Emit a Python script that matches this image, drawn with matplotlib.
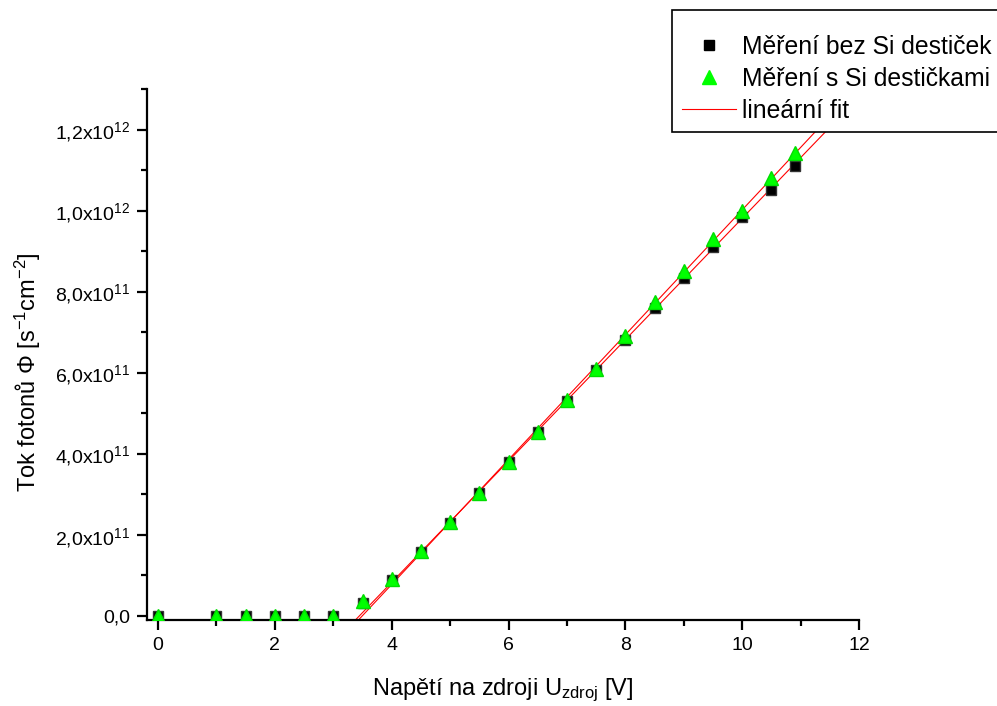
import numpy as np
import matplotlib
matplotlib.use("Agg")
import matplotlib.pyplot as plt
from matplotlib.ticker import MultipleLocator, FuncFormatter

plt.rcParams['font.family'] = ['Liberation Sans', 'DejaVu Sans']
plt.rcParams['mathtext.fontset'] = 'custom'
plt.rcParams['mathtext.rm'] = 'Liberation Sans'
plt.rcParams['mathtext.it'] = 'Liberation Sans:italic'

# napeti na zdroji [V]
u = [0, 1, 1.5, 2, 2.5, 3, 3.5, 4, 4.5, 5, 5.5, 6, 6.5, 7, 7.5, 8, 8.5, 9, 9.5, 10, 10.5, 10.9]
# tok fotonu bez Si desticek [1e12 s^-1 cm^-2]
phi_bez = [0, 0, 0, 0, 0, 0, 0.032, 0.089, 0.158, 0.230, 0.304, 0.380, 0.454, 0.531,
           0.607, 0.681, 0.760, 0.835, 0.911, 0.985, 1.052, 1.111]
# tok fotonu s Si desticky [1e12 s^-1 cm^-2]
phi_si = [0, 0, 0, 0, 0, 0, 0.037, 0.091, 0.160, 0.232, 0.304, 0.380, 0.454, 0.533,
          0.610, 0.691, 0.775, 0.852, 0.931, 1.000, 1.081, 1.143]

u = np.array(u)
phi_bez = np.array(phi_bez) * 1e12
phi_si = np.array(phi_si) * 1e12

fig = plt.figure(figsize=(9.97, 7.06), dpi=100)
ax = fig.add_axes([0.1474, 0.1218, 0.7142, 0.7521])

# linearni fit jen z oblasti nad prahem
lin = u >= 4
xf = np.linspace(3.0, 12.5, 50)
for phi in (phi_bez, phi_si):
    k, q = np.polyfit(u[lin], phi[lin], 1)
    ax.plot(xf, k * xf + q, color='#ff0000', lw=0.8, zorder=2)

ax.plot(u, phi_bez, 's', color='black', mec='#333333', ms=7.5, zorder=3)
ax.plot(u, phi_si, '^', color='#00ff00', mec='#00dd00', ms=9.5, zorder=4)

ax.set_xlim(-0.19, 12)
ax.set_ylim(-1e10, 1.3e12)

ax.spines['top'].set_visible(False)
ax.spines['right'].set_visible(False)
for s in ('left', 'bottom'):
    ax.spines[s].set_linewidth(1.6)

ax.xaxis.set_major_locator(MultipleLocator(2))
ax.xaxis.set_minor_locator(MultipleLocator(1))
ax.yaxis.set_major_locator(MultipleLocator(2e11))
ax.yaxis.set_minor_locator(MultipleLocator(1e11))


def fmt_y(v, pos):
    if abs(v) < 1:
        return '0,0'
    e = int(np.floor(np.log10(abs(v)) + 1e-9))
    m = v / 10 ** e
    return ('%.1f' % m).replace('.', ',') + r'x10$^{%d}$' % e


ax.yaxis.set_major_formatter(FuncFormatter(fmt_y))
ax.tick_params(which='major', direction='out', length=7.2, width=1.6, labelsize=14, pad=5)
ax.tick_params(which='minor', direction='out', length=4.5, width=1.6)

ax.set_xlabel(r'Napětí na zdroji U$_{\mathrm{zdroj}}$ [V]', fontsize=17, labelpad=16)
ax.set_ylabel(r'Tok fotonů Φ [s$^{-1}$cm$^{-2}$]', fontsize=17)
ax.yaxis.set_label_coords(-0.146, 0.467)

h1, = ax.plot([], [], 's', color='black', ms=7.5)
h2, = ax.plot([], [], '^', color='#00ff00', ms=9.5)
h3, = ax.plot([], [], color='#ff0000', lw=0.8)
leg = fig.legend([h1, h2, h3], ['Měření bez Si destiček', 'Měření s Si destičkami', 'lineární fit'],
                 loc='upper left', bbox_to_anchor=(0.674, 0.986), fontsize=17.8,
                 title=' ', title_fontsize=6,
                 frameon=True, fancybox=False, framealpha=1, edgecolor='black',
                 handlelength=2.2, handletextpad=0.25, labelspacing=0.32, borderpad=0.4,
                 borderaxespad=0)
leg.get_frame().set_linewidth(1.2)
leg.set_zorder(10)

fig.savefig('out.png', dpi=100)
